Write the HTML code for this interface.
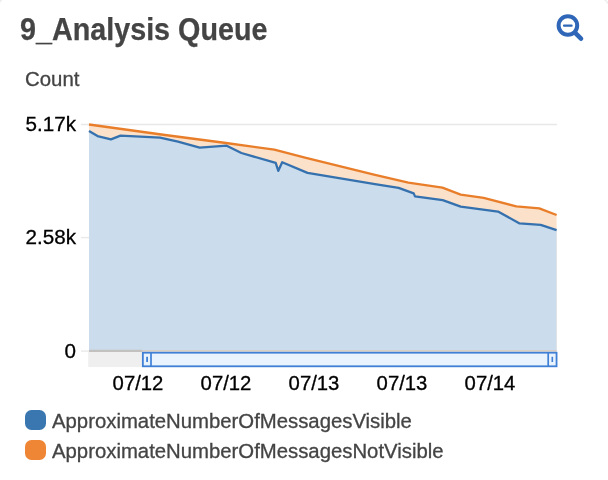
<!DOCTYPE html>
<html><head><meta charset="utf-8">
<style>
html,body{margin:0;padding:0;background:#fff;}
body{width:608px;height:480px;position:relative;overflow:hidden;font-family:"Liberation Sans",sans-serif;}
.t{position:absolute;white-space:nowrap;line-height:1;-webkit-text-stroke:0.3px currentColor;}
#title{left:20.3px;top:13.6px;font-size:31.2px;font-weight:bold;color:#444;transform:scaleX(0.921);transform-origin:0 50%;-webkit-text-stroke:0.25px #444;}
#count{left:24.6px;top:69px;font-size:20.1px;color:#444;transform:scaleX(1.015);transform-origin:0 50%;}
.yl{font-size:20.1px;color:#000;text-align:right;width:60px;left:16.1px;transform:scaleX(1.026);transform-origin:100% 50%;}
.xl{font-size:20.1px;color:#000;text-align:center;width:80px;top:373px;transform:scaleX(1.01);}
.lg{font-size:20.1px;color:#444;left:52.4px;transform:scaleX(1.0113);transform-origin:0 50%;}
.sw{position:absolute;left:24.9px;width:20.7px;height:20.2px;border-radius:6.5px;}
svg{position:absolute;left:0;top:0;}
</style></head><body>
<svg width="608" height="480" viewBox="0 0 608 480">
  <path d="M0 0H2.6Q0.4 0.6 0 3.6Z" fill="#ececec"/>
  <path d="M604.6 0Q607 0.8 607.6 3.6" fill="none" stroke="#ebebeb" stroke-width="1.3"/>
  <!-- gridlines -->
  <line x1="81" y1="124.5" x2="557" y2="124.5" stroke="#e8e8e8" stroke-width="1.5"/>
  <line x1="81" y1="237.6" x2="89" y2="237.6" stroke="#e9e9e9" stroke-width="1.4"/>
  <line x1="81" y1="351.1" x2="89" y2="351.1" stroke="#e9e9e9" stroke-width="1.4"/>
  <!-- orange area -->
  <path fill="#fbe1ca" d="M89 124.5 L165 135 L226 143 L274.3 149.7 L305 157.6 L375 174.9 L408.4 182.6 L442.4 187.7 L460.7 194.6 L483.7 197.9 L516.3 206.4 L539.3 208.4 L556.6 215 L556.6 351 L89 351 Z"/>
  <path fill="#cbdcec" d="M89 130.9 L97.5 136.05 L110.9 139.3 L120.5 135.7 L160 137.6 L178 141.7 L199.7 147.6 L226.7 145.7 L241.4 153 L275.7 162.9 L278.3 170.8 L282.2 162.2 L307.5 172.9 L375 184.1 L398.6 187.9 L413.7 193.4 L415 196.4 L442.7 200.2 L460.7 206.6 L498 211.6 L519.6 223.4 L540.7 224.9 L556.6 230.1 L556.6 351 L89 351 Z"/>
  <line x1="142" y1="350.9" x2="556.6" y2="350.9" stroke="#d6cdc5" stroke-width="1.9"/>
  <path fill="none" stroke="#e97e2a" stroke-width="2.3" stroke-linejoin="round" d="M89 124.5 L165 135 L226 143 L274.3 149.7 L305 157.6 L375 174.9 L408.4 182.6 L442.4 187.7 L460.7 194.6 L483.7 197.9 L516.3 206.4 L539.3 208.4 L556.6 215"/>
  <path fill="none" stroke="#3571ae" stroke-width="2.3" stroke-linejoin="round" d="M89 130.9 L97.5 136.05 L110.9 139.3 L120.5 135.7 L160 137.6 L178 141.7 L199.7 147.6 L226.7 145.7 L241.4 153 L275.7 162.9 L278.3 170.8 L282.2 162.2 L307.5 172.9 L375 184.1 L398.6 187.9 L413.7 193.4 L415 196.4 L442.7 200.2 L460.7 206.6 L498 211.6 L519.6 223.4 L540.7 224.9 L556.6 230.1"/>
  <!-- scrollbar -->
  <rect x="88.2" y="351.8" width="54.3" height="15.2" fill="#efefef"/>
  <line x1="89" y1="350.9" x2="142" y2="350.9" stroke="#c3c1bf" stroke-width="2.1"/>
  <rect x="142.85" y="352.7" width="413.7" height="13.6" fill="#e9f3fd" stroke="#3f7fd6" stroke-width="1.8"/>
  <line x1="151" y1="352.9" x2="151" y2="366.4" stroke="#3f7fd6" stroke-width="1.7"/>
  <line x1="548.2" y1="352.9" x2="548.2" y2="366.4" stroke="#3f7fd6" stroke-width="1.7"/>
  <rect x="146.2" y="356.8" width="1.8" height="5.2" fill="#3f7fd6"/>
  <rect x="551.5" y="356.8" width="1.6" height="5.2" fill="#3f7fd6"/>
  <!-- zoom icon -->
  <g fill="none" stroke="#2f66b8" stroke-linecap="round">
    <circle cx="567.9" cy="25.5" r="9.3" stroke-width="4"/>
    <line x1="575.2" y1="32.9" x2="581" y2="38.7" stroke-width="4.6"/>
    <line x1="564" y1="25.7" x2="571.6" y2="25.7" stroke-width="2.2"/>
  </g>
</svg>
<div class="t" id="title">9_Analysis Queue</div>
<div class="t" id="count">Count</div>
<div class="t yl" style="top:114px">5.17k</div>
<div class="t yl" style="top:227px">2.58k</div>
<div class="t yl" style="top:341px">0</div>
<div class="t xl" style="left:97.7px">07/12</div>
<div class="t xl" style="left:186px">07/12</div>
<div class="t xl" style="left:274px">07/13</div>
<div class="t xl" style="left:362px">07/13</div>
<div class="t xl" style="left:450px">07/14</div>
<div class="sw" style="top:410px;background:#3a76b0"></div>
<div class="sw" style="top:440.1px;background:#ee8636"></div>
<div class="t lg" style="top:411px">ApproximateNumberOfMessagesVisible</div>
<div class="t lg" style="top:441px">ApproximateNumberOfMessagesNotVisible</div>
</body></html>
